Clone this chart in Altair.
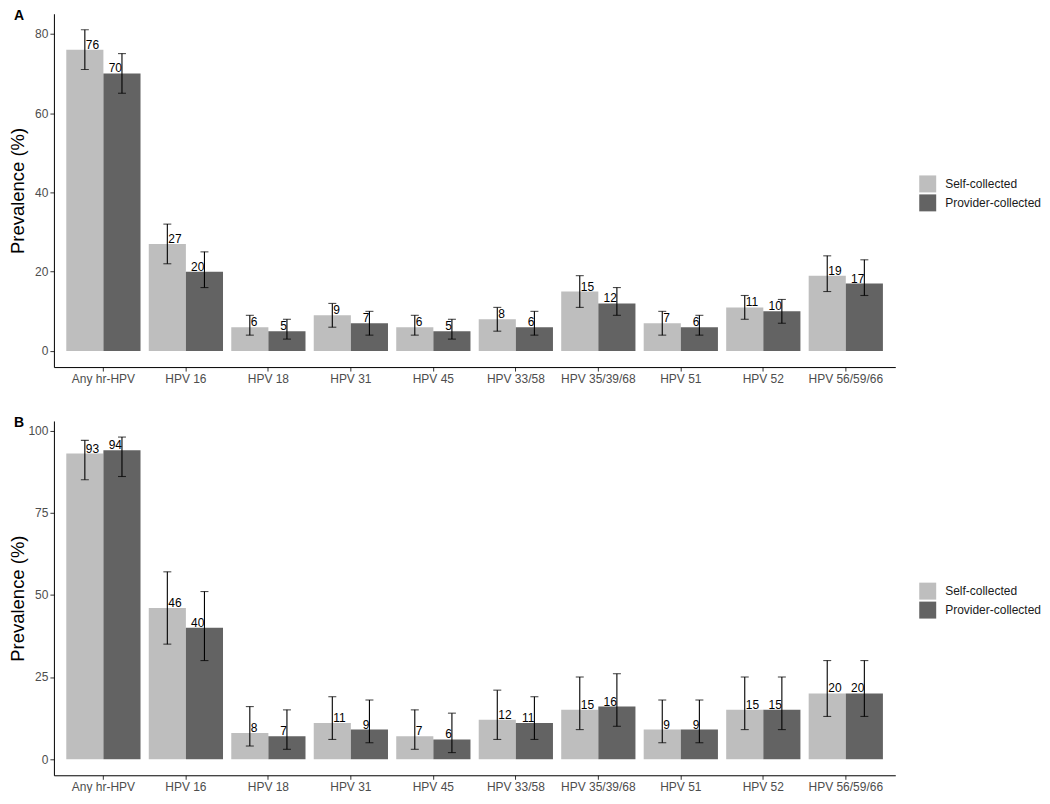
import altair as alt
import pandas as pd

categories = ["Any hr-HPV", "HPV 16", "HPV 18", "HPV 31", "HPV 45",
              "HPV 33/58", "HPV 35/39/68", "HPV 51", "HPV 52", "HPV 56/59/66"]
sources = ["Self-collected", "Provider-collected"]

# Panel A
a_self = [76, 27, 6, 9, 6, 8, 15, 7, 11, 19]
a_self_lo = [71, 22, 4, 6, 4, 5, 11, 4, 8, 15]
a_self_hi = [81, 32, 9, 12, 9, 11, 19, 10, 14, 24]
a_prov = [70, 20, 5, 7, 5, 6, 12, 6, 10, 17]
a_prov_lo = [65, 16, 3, 4, 3, 4, 9, 4, 7, 14]
a_prov_hi = [75, 25, 8, 10, 8, 10, 16, 9, 13, 23]

# Panel B
b_self = [93, 46, 8, 11, 7, 12, 15, 9, 15, 20]
b_self_lo = [85, 35, 4, 6, 3, 6, 9, 5, 9, 13]
b_self_hi = [97, 57, 16, 19, 15, 21, 25, 18, 25, 30]
b_prov = [94, 40, 7, 9, 6, 11, 16, 9, 15, 20]
b_prov_lo = [86, 30, 3, 5, 2, 6, 10, 5, 9, 13]
b_prov_hi = [98, 51, 15, 18, 14, 19, 26, 18, 25, 30]

a_ticks = [0, 20, 40, 60, 80]
b_ticks = [0, 25, 50, 75, 100]

FONT = "Liberation Sans"
COLORS = ["#bebebe", "#636363"]


def frame(sv, slo, shi, pv, plo, phi):
    rows = []
    for i, c in enumerate(categories):
        rows.append(dict(cat=c, source=sources[0], v=sv[i], lo=slo[i], hi=shi[i]))
        rows.append(dict(cat=c, source=sources[1], v=pv[i], lo=plo[i], hi=phi[i]))
    return pd.DataFrame(rows)


def panel(df, letter, ticks, domain, width, height, title_pad):
    x = alt.X("cat:N", sort=categories, title=None,
              scale=alt.Scale(paddingInner=0.1, paddingOuter=0.15),
              axis=alt.Axis(labelAngle=0, bandPosition=0.5, labelFont=FONT,
                            labelFontSize=12, labelColor="#4d4d4d",
                            tickColor="#333333", tickSize=4, labelPadding=2,
                            domainColor="black", domainWidth=1))
    xo = alt.XOffset("source:N", sort=sources,
                     scale=alt.Scale(domain=sources, paddingInner=0, paddingOuter=0))
    yscale = alt.Scale(domain=domain, nice=False, zero=False)
    y = alt.Y("v:Q", scale=yscale, title="Prevalence (%)",
              axis=alt.Axis(values=ticks, grid=False, labelFont=FONT,
                            labelFontSize=12, labelColor="#4d4d4d",
                            tickColor="#333333", tickSize=4, labelPadding=2,
                            domainColor="black", domainWidth=1,
                            titleFont=FONT, titleFontSize=18.5,
                            titleFontWeight="normal", titleColor="black",
                            titlePadding=title_pad))
    base = alt.Chart(df).encode(x=x, xOffset=xo)
    bars = base.mark_bar().encode(
        y=y,
        color=alt.Color("source:N", sort=sources, title=None,
                        scale=alt.Scale(domain=sources, range=COLORS),
                        legend=alt.Legend(orient="none", legendX=width + 24,
                                          legendY=162, symbolType="square",
                                          symbolSize=289, symbolStrokeWidth=0,
                                          rowPadding=2, labelOffset=9,
                                          labelFont=FONT, labelFontSize=12,
                                          labelColor="#1a1a1a", padding=0)),
    )
    rule = base.mark_rule(color="black", strokeWidth=1.1).encode(
        y=alt.Y("lo:Q", scale=yscale), y2="hi:Q")
    cap_lo = base.mark_tick(color="black", size=8, thickness=1.1).encode(
        y=alt.Y("lo:Q", scale=yscale))
    cap_hi = base.mark_tick(color="black", size=8, thickness=1.1).encode(
        y=alt.Y("hi:Q", scale=yscale))
    txt_self = base.mark_text(align="left", baseline="alphabetic", dx=1, dy=-1,
                              font=FONT, fontSize=12, color="black").encode(
        y=alt.Y("v:Q", scale=yscale), text="v:Q"
    ).transform_filter(alt.datum.source == sources[0])
    txt_prov = base.mark_text(align="right", baseline="alphabetic", dx=0, dy=-1,
                              font=FONT, fontSize=12, color="black").encode(
        y=alt.Y("v:Q", scale=yscale), text="v:Q"
    ).transform_filter(alt.datum.source == sources[1])
    tag = alt.Chart(pd.DataFrame({"tag": [letter]})).mark_text(
        align="left", baseline="top", font=FONT, fontSize=14, fontWeight="bold",
        color="black").encode(text="tag:N", x=alt.value(-40), y=alt.value(-5))
    return alt.layer(bars, rule, cap_lo, cap_hi, txt_self, txt_prov, tag).properties(
        width=width, height=height)


dfa = frame(a_self, a_self_lo, a_self_hi, a_prov, a_prov_lo, a_prov_hi)
dfb = frame(b_self, b_self_lo, b_self_hi, b_prov, b_prov_lo, b_prov_hi)

pa = panel(dfa, "A", a_ticks, [-4.05, 85.05], 843, 354, 7)
pb = panel(dfb, "B", b_ticks, [-4.9, 102.9], 843, 355, 0)

chart = alt.concat(pa, pb, columns=1, spacing=32).resolve_scale(
    color="independent", x="independent", xOffset="independent", y="independent"
).resolve_legend(color="independent").properties(
    padding={"left": 0, "top": 0, "right": 0, "bottom": 0},
    background="white",
).configure_view(stroke="transparent", strokeWidth=0)

chart.save("out.html", embed_options={"renderer": "svg", "actions": False})
